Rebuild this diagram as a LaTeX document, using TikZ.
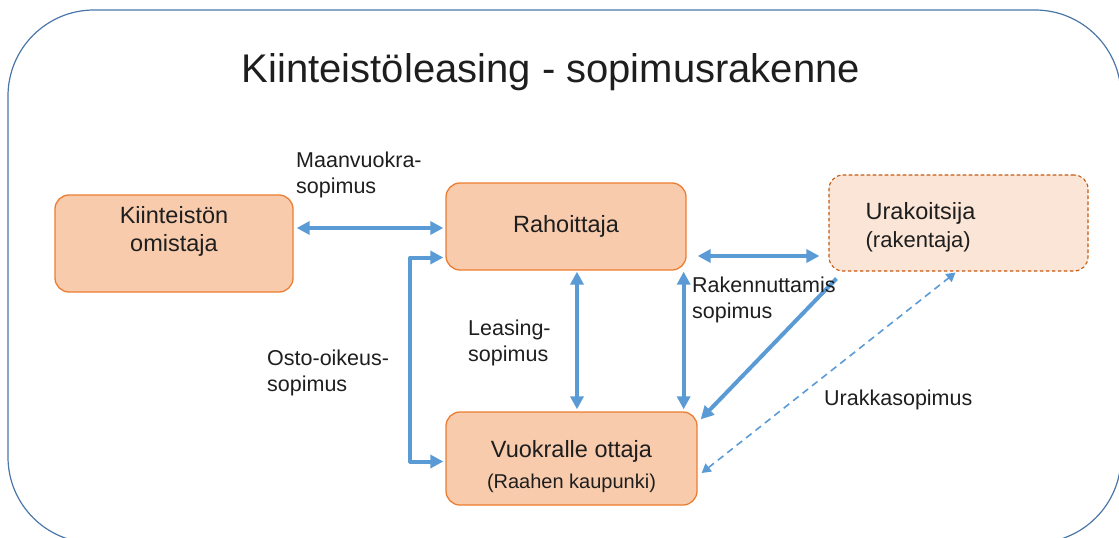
\documentclass[tikz,border=0pt]{standalone}
\usepackage{fontspec}
\setmainfont{Liberation Sans}
\usepackage{xcolor}
\usepackage{tikz}
\usetikzlibrary{arrows.meta,calc}
\definecolor{laatikko}{HTML}{F8CBAD}
\definecolor{reuna}{HTML}{ED7D31}
\definecolor{vaalea}{HTML}{FBE5D6}
\definecolor{tumma}{HTML}{C55A11}
\definecolor{nuoli}{HTML}{5B9BD5}
\definecolor{kehys}{HTML}{4A77A8}
\definecolor{teksti}{HTML}{1E1E1E}
\tikzset{
  >=Stealth,
  every picture/.style={line cap=round,line join=round},
  osapuoli/.style={draw=reuna, fill=laatikko, line width=1.3pt, rounded corners=14pt},
  urakka/.style={draw=tumma, fill=vaalea, line width=1.1pt, dashed, rounded corners=14pt},
  nimi/.style={text=teksti, align=center, font=\fontsize{23.5}{28}\selectfont},
  sopimus/.style={text=teksti, align=left, anchor=west, inner sep=0pt, font=\fontsize{21.5}{26}\selectfont},
  paksu/.style={draw=nuoli, line width=4pt, line cap=butt,
    {Triangle[length=13pt,width=13pt]}-{Triangle[length=13pt,width=13pt]}},
  ohut/.style={draw=nuoli, line width=1.6pt, line cap=butt, dash pattern=on 7pt off 5pt,
    {Triangle[length=9pt,width=10pt]}-{Triangle[length=9pt,width=10pt]}},
}

\begin{document}
\begin{tikzpicture}[x=1pt,y=-1pt]
    \useasboundingbox (0,0) rectangle (1119,538);
    % ulkokehys
    \draw[kehys, line width=1.2pt, rounded corners=86pt] (8,10) rectangle (1121,543);
    \node[text=teksti, anchor=base, font=\fontsize{40}{48}\selectfont] (otsikko) at (551,82)
      {Kiinteistöleasing - sopimusrakenne};

    % osapuolet
    \node[osapuoli, minimum width=238pt, minimum height=97pt] (omistaja) at (174,243.5) {};
    \node[nimi] (omistajat) at ([yshift=12pt]omistaja) {Kiinteistön\\omistaja};
    \node[osapuoli, minimum width=240pt, minimum height=87pt, nimi] (rahoittaja) at (566,226.5) {Rahoittaja};
    \node[urakka, minimum width=259pt, minimum height=96pt] (urakoitsija) at (958.5,223) {};
    \node[text=teksti, align=left, anchor=west, inner sep=0pt, font=\fontsize{23.5}{28}\selectfont]
      (urakoitsijat) at ([xshift=37pt,yshift=-4pt]urakoitsija.west)
      {Urakoitsija\\{\fontsize{22}{28}\selectfont(rakentaja)}};
    \node[osapuoli, minimum width=251pt, minimum height=93pt] (vuokralle) at (571.5,458.5) {};
    \node[nimi] (vuokrallet) at ([yshift=-8pt]vuokralle)
      {Vuokralle ottaja\\[3pt]{\fontsize{20}{24}\selectfont(Raahen kaupunki)}};

    % sopimukset
    \draw[paksu] ([xshift=3pt,yshift=15.5pt]omistaja.east) -- ([xshift=-2pt,yshift=15.5pt]omistaja.east -| rahoittaja.west);
    \draw[paksu] ([xshift=-2pt,yshift=-31pt]rahoittaja.west) -- ++(-33,0)
      |- ([xshift=-2pt,yshift=-3pt]vuokralle.west);
    \draw[paksu] ([xshift=11pt,yshift=-1pt]rahoittaja.south) -- ([xshift=5.5pt,yshift=2pt]vuokralle.north);
    \draw[paksu] ([xshift=-3pt,yshift=-1pt]rahoittaja.south east) -- ([xshift=-14pt,yshift=2pt]vuokralle.north east);
    \draw[paksu] ([xshift=11pt,yshift=-29.5pt]rahoittaja.east) -- ([xshift=-9pt,yshift=-33pt]urakoitsija.west);
    \draw[paksu, -{Triangle[length=13pt,width=13pt]}]
      ([xshift=8pt,yshift=-7pt]urakoitsija.south west) -- ([xshift=3pt,yshift=-8pt]vuokralle.north east);
    \draw[ohut] ([xshift=4pt,yshift=-14.5pt]vuokralle.east) -- ([xshift=-3pt,yshift=-1pt]urakoitsija.south);

    % sopimusten nimet
    \node[sopimus] (maanvuokra) at (296,175) {Maanvuokra-\\sopimus};
    \node[sopimus] (osto) at (267,373) {Osto-oikeus-\\sopimus};
    \node[sopimus] (leasing) at (468,343) {Leasing-\\sopimus};
    \node[sopimus] (rakennuttamis) at (692,300) {Rakennuttamis\\sopimus};
    \node[sopimus] (urakkasopimus) at (824,400) {Urakkasopimus};
  \end{tikzpicture}
\end{document}
